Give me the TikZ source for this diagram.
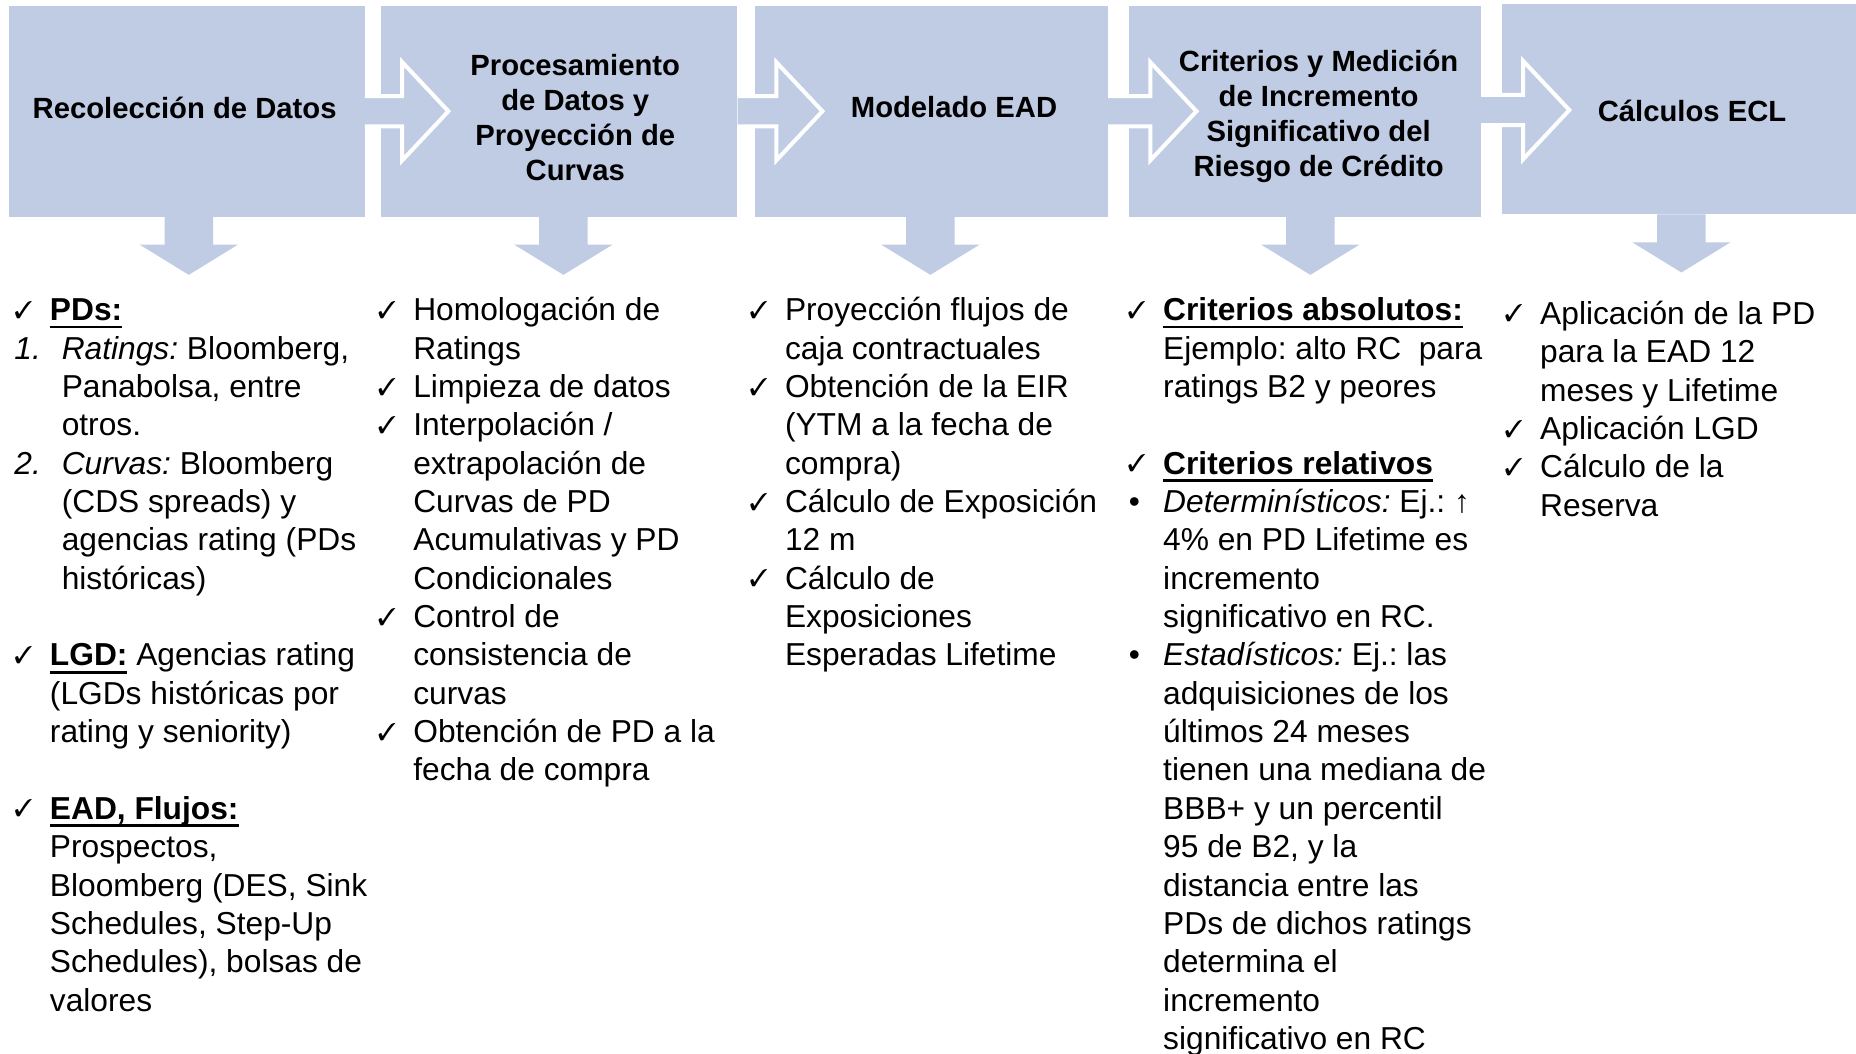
\documentclass[tikz,border=0pt]{standalone}
\usepackage{fontspec}
\setmainfont{Liberation Sans}
\usepackage{pifont}
\usetikzlibrary{calc}
\frenchspacing

\definecolor{boxblue}{RGB}{192,203,228}

% text sizes
\newcommand\bodyfont{\fontsize{26.8}{32.4}\selectfont}
\newcommand\headfont{\fontsize{24.7}{29.7}\selectfont\bfseries}

% list markers and indents
\newcommand\ck{\makebox[30pt][l]{\raisebox{2pt}{\fontsize{20.5}{20.5}\selectfont\ding{51}}}}
\newcommand\ind{\hspace*{30pt}}
\newcommand\bul{\makebox[30pt][l]{\hspace{1pt}\textbullet}}
\newcommand\num[1]{\makebox[40pt][l]{\itshape #1}}
\newcommand\nind{\hspace*{40pt}}
\newsavebox\ulbox
\newcommand\ulb[1]{\sbox\ulbox{\bfseries #1}\rlap{\rule[-6.5pt]{\wd\ulbox}{2.3pt}}\usebox\ulbox}
\newcommand\itl[1]{{\itshape #1}}

% block arrow from stage #1 into stage #2
\newcommand\rightarr[2]{%
  \coordinate (m#1#2) at ($(b#1.center)!0.5!(b#2.center)$);
  \coordinate (s#1#2) at (b#1.east |- m#1#2);
  \coordinate (t#1#2) at (b#2.west |- m#1#2);
  \fill[boxblue] ($(s#1#2)+(0,-12.8)$) -- ($(t#1#2)+(18,-12.8)$) -- ($(t#1#2)+(18,-41.5)$)
     -- ($(t#1#2)+(57,0)$) -- ($(t#1#2)+(18,41.5)$) -- ($(t#1#2)+(18,12.8)$)
     -- ($(s#1#2)+(0,12.8)$) -- cycle;
  \draw[arrowrim] ($(s#1#2)+(0,-12.8)$) -- ($(t#1#2)+(18,-12.8)$) -- ($(t#1#2)+(18,-41.5)$)
     -- ($(t#1#2)+(57,0)$) -- ($(t#1#2)+(18,41.5)$) -- ($(t#1#2)+(18,12.8)$)
     -- ($(s#1#2)+(0,12.8)$);
}

% block arrow pointing down from stage #1, shifted by #2
\newcommand\downarr[2]{%
  \fill[boxblue] ($(b#1.south)+(#2,0)$) ++(-20.5,0) -- ++(41,0) -- ++(0,23.5) -- ++(21,0)
     -- ++(-41.5,25.5) -- ++(-41.5,-25.5) -- ++(21,0) -- cycle;
}

\begin{document}
\begin{tikzpicture}[x=1pt,y=-1pt,
  stagebox/.style={fill=boxblue,draw=none,inner sep=0pt,minimum height=178pt},
  arrowrim/.style={draw=white,line width=3.4pt,line join=miter},
  headtext/.style={font=\headfont,inner sep=0pt,anchor=base},
  listtext/.style={font=\bodyfont,inner sep=0pt,anchor=base west}]

\useasboundingbox (0,0) rectangle (1568,890);
\clip (0,0) rectangle (1568,890);

% stages
\node[stagebox,minimum width=300pt] (b1) at (158,94) {};
\node[stagebox,minimum width=301pt] (b2) at (472.5,94) {};
\node[stagebox,minimum width=298pt] (b3) at (787,94) {};
\node[stagebox,minimum width=297pt] (b4) at (1102.5,94) {};
\node[stagebox,minimum width=301pt] (b5) at (1419.5,92) {};

% arrows between stages
\rightarr{1}{2}
\rightarr{2}{3}
\rightarr{3}{4}
\rightarr{4}{5}

% arrows down to the lists
\downarr{1}{1.5}
\downarr{2}{3.5}
\downarr{3}{-1}
\downarr{4}{4.5}
\downarr{5}{1}

% stage titles
\node[headtext] (h1) at (156,100) {Recolección de Datos};
\node[headtext] (h2) at (486,63.5) {\begin{tabular}[t]{@{}c@{}}Procesamiento\\de Datos y\\Proyección de\\Curvas\end{tabular}};
\node[headtext] (h3) at (806,99.6) {Modelado EAD};
\node[headtext] (h4) at (1114,60.1) {\begin{tabular}[t]{@{}c@{}}Criterios y Medición\\de Incremento\\Significativo del\\Riesgo de Crédito\end{tabular}};
\node[headtext] (h5) at (1429.5,103) {Cálculos ECL};

% lists
\node[listtext] (l1) at (12,271) {\begin{tabular}[t]{@{}l@{}}
\ck\ulb{PDs:}\\
\num{1.}\itl{Ratings:} Bloomberg,\\
\nind Panabolsa, entre\\
\nind otros.\\
\num{2.}\itl{Curvas:} Bloomberg\\
\nind (CDS spreads) y\\
\nind agencias rating (PDs\\
\nind históricas)\\
\\
\ck\ulb{LGD:} Agencias rating\\
\ind (LGDs históricas por\\
\ind rating y seniority)\\
\\
\ck\ulb{EAD, Flujos:}\\
\ind Prospectos,\\
\ind Bloomberg (DES, Sink\\
\ind Schedules, Step-Up\\
\ind Schedules), bolsas de\\
\ind valores
\end{tabular}};

\node[listtext] (l2) at (319,271) {\begin{tabular}[t]{@{}l@{}}
\ck Homologación de\\
\ind Ratings\\
\ck Limpieza de datos\\
\ck Interpolación /\\
\ind extrapolación de\\
\ind Curvas de PD\\
\ind Acumulativas y PD\\
\ind Condicionales\\
\ck Control de\\
\ind consistencia de\\
\ind curvas\\
\ck Obtención de PD a la\\
\ind fecha de compra
\end{tabular}};

\node[listtext] (l3) at (633,271) {\begin{tabular}[t]{@{}l@{}}
\ck Proyección flujos de\\
\ind caja contractuales\\
\ck Obtención de la EIR\\
\ind (YTM a la fecha de\\
\ind compra)\\
\ck Cálculo de Exposición\\
\ind 12 m\\
\ck Cálculo de\\
\ind Exposiciones\\
\ind Esperadas Lifetime
\end{tabular}};

\node[listtext] (l4) at (952.5,271) {\begin{tabular}[t]{@{}l@{}}
\ck\ulb{Criterios absolutos:}\\
\ind Ejemplo: alto RC~ para\\
\ind ratings B2 y peores\\
\\
\ck\ulb{Criterios relativos}\\
\bul\itl{Determinísticos:} Ej.: ↑\\
\ind 4\% en PD Lifetime es\\
\ind incremento\\
\ind significativo en RC.\\
\bul\itl{Estadísticos:} Ej.: las\\
\ind adquisiciones de los\\
\ind últimos 24 meses\\
\ind tienen una mediana de\\
\ind BBB+ y un percentil\\
\ind 95 de B2, y la\\
\ind distancia entre las\\
\ind PDs de dichos ratings\\
\ind determina el\\
\ind incremento\\
\ind significativo en RC
\end{tabular}};

\node[listtext] (l5) at (1271,274) {\begin{tabular}[t]{@{}l@{}}
\ck Aplicación de la PD\\
\ind para la EAD 12\\
\ind meses y Lifetime\\
\ck Aplicación LGD\\
\ck Cálculo de la\\
\ind Reserva
\end{tabular}};

\end{tikzpicture}
\end{document}
